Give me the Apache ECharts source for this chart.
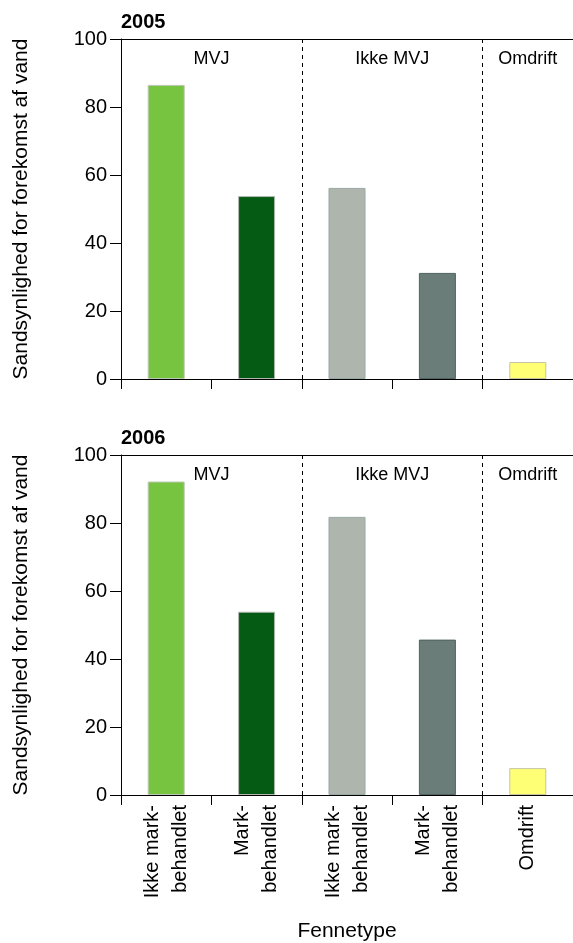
<!DOCTYPE html>
<html>
<head>
<meta charset="utf-8">
<script src="https://cdn.jsdelivr.net/npm/echarts@6/dist/echarts.min.js"></script>
<style>
html,body{margin:0;padding:0;background:#fff;}
#c{width:573px;height:943px;}
</style>
</head>
<body>
<div id="c"></div>
<script>
const categories = ['Ikke mark-\nbehandlet', 'Mark-\nbehandlet', 'Ikke mark-\nbehandlet', 'Mark-\nbehandlet', 'Omdrift'];
const values2005 = [86.5, 53.8, 56.2, 31.2, 5.0];
const values2006 = [92.2, 53.9, 81.8, 45.7, 7.9];
const panelTitles = ['2005', '2006'];
const groupLabels = ['MVJ', 'Ikke MVJ', 'Omdrift'];
const yTicks = [0, 20, 40, 60, 80, 100];
const yAxisName = 'Sandsynlighed for forekomst af vand';
const xAxisName = 'Fennetype';

const barColors = ['#76C43F', '#055A14', '#ADB5AC', '#6A7D79', '#FFFF75'];
const barBorders = ['#bcc8b6', '#b0b8b0', '#98a8a6', '#4f6361', '#c4c4a4'];
const FONT = '"Liberation Sans", Arial, Helvetica, sans-serif';

const chart = echarts.init(document.getElementById('c'), null, {renderer: 'canvas'});

const grids = [
  {left: 121, top: 39, width: 452, height: 340},
  {left: 121, top: 455, width: 452, height: 341}
];

function makeX(gi, showLabels) {
  return {
    type: 'category',
    gridIndex: gi,
    data: categories,
    boundaryGap: true,
    position: 'bottom',
    axisLine: {show: true, lineStyle: {color: '#000', width: 1}},
    axisTick: {show: true, length: 10, inside: false, alignWithLabel: false, lineStyle: {color: '#000'}},
    axisLabel: showLabels ? {
      show: true, rotate: 90, interval: 0, margin: 10,
      fontFamily: FONT, fontSize: 20, color: '#000', lineHeight: 28
    } : {show: false},
    splitLine: {
      show: true,
      interval: function (idx) { return idx === 2 || idx === 4; },
      lineStyle: {color: '#000', type: [4, 4], width: 1}
    },
    name: showLabels ? xAxisName : '',
    nameLocation: 'middle',
    nameGap: 126,
    nameTextStyle: {fontFamily: FONT, fontSize: 21, color: '#000'}
  };
}
function makeTopX(gi) {
  return {
    type: 'category', gridIndex: gi, data: categories, position: 'top',
    axisLine: {show: true, lineStyle: {color: '#000', width: 1}},
    axisTick: {show: false}, axisLabel: {show: false}, splitLine: {show: false}
  };
}
function makeY(gi) {
  return {
    type: 'value', gridIndex: gi, min: yTicks[0], max: yTicks[yTicks.length - 1], interval: 20,
    axisLine: {show: true, lineStyle: {color: '#000', width: 1}},
    axisTick: {show: true, length: 11, lineStyle: {color: '#000'}},
    axisLabel: {fontFamily: FONT, fontSize: 20, color: '#000', margin: 14},
    splitLine: {show: false},
    name: yAxisName,
    nameLocation: 'middle',
    nameGap: 89,
    nameRotate: 90,
    nameTextStyle: {fontFamily: FONT, fontSize: 21, color: '#000'}
  };
}

function barData(vals) {
  return vals.map((v, i) => ({
    value: v,
    itemStyle: {color: barColors[i], borderColor: barBorders[i], borderWidth: 1}
  }));
}

const option = {
  animation: false,
  backgroundColor: '#fff',
  grid: grids,
  xAxis: [makeX(0, false), makeX(1, true), makeTopX(0), makeTopX(1)],
  yAxis: [makeY(0), makeY(1)],
  series: [
    {type: 'bar', xAxisIndex: 0, yAxisIndex: 0, data: barData(values2005), barWidth: 37},
    {type: 'bar', xAxisIndex: 1, yAxisIndex: 1, data: barData(values2006), barWidth: 37}
  ]
};
chart.setOption(option);

// Annotations (panel titles and group labels) positioned via axis conversion
const graphics = [];
[0, 1].forEach(gi => {
  const c = i => chart.convertToPixel({xAxisIndex: gi}, i);
  const yTop = chart.convertToPixel({yAxisIndex: gi}, 100);
  const x0 = c(0), x1 = c(1), x3 = c(3), x4 = c(4);
  const b01 = (x0 + x1) / 2;
  const b23 = (c(2) + x3) / 2, b34 = (x3 + x4) / 2;
  const groupX = [b01, (c(2) + x3) / 2, x4];
  groupLabels.forEach((t, k) => {
    graphics.push({
      type: 'text', x: groupX[k], y: yTop + 20, silent: true,
      style: {text: t, fill: '#000', font: '18px ' + FONT, textAlign: 'center', textVerticalAlign: 'middle'}
    });
  });
  graphics.push({
    type: 'text', x: grids[gi].left, y: yTop - 17, silent: true,
    style: {text: panelTitles[gi], fill: '#000', font: 'bold 20px ' + FONT, textAlign: 'left', textVerticalAlign: 'middle'}
  });
});
chart.setOption({graphic: graphics});
</script>
</body>
</html>
